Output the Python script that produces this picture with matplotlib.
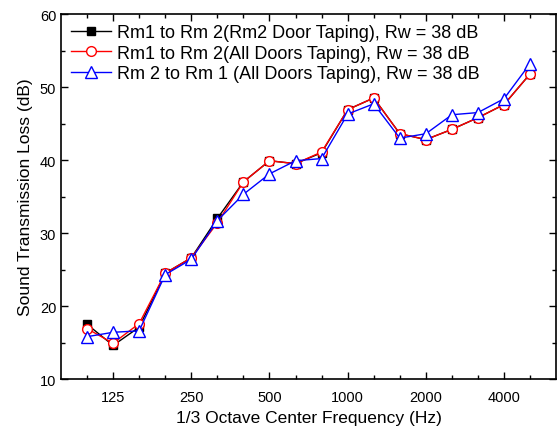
import matplotlib.pyplot as plt
import numpy as np

plt.rcParams['font.family'] = ['Liberation Sans', 'DejaVu Sans']

freqs = ['100', '125', '160', '200', '250', '315', '400', '500', '630', '800',
         '1000', '1250', '1600', '2000', '2500', '3150', '4000', '5000']
rm2_door = [17.5, 14.6, 17.1, 24.5, 26.6, 32.0, 37.0, 39.9, 39.5, 41.0,
            46.9, 48.5, 43.6, 42.8, 44.2, 45.8, 47.6, 51.8]
all_doors = [16.9, 14.9, 17.6, 24.5, 26.6, 31.4, 37.0, 39.9, 39.5, 41.1,
             46.9, 48.5, 43.6, 42.8, 44.2, 45.8, 47.6, 51.8]
rm2_to_rm1 = [15.8, 16.4, 16.6, 24.3, 26.4, 31.7, 35.3, 38.1, 39.9, 40.2,
              46.3, 47.7, 43.0, 43.6, 46.2, 46.5, 48.4, 53.2]
tick_labels = ['125', '250', '500', '1000', '2000', '4000']

x = np.arange(len(freqs))

fig = plt.figure(figsize=(5.57, 4.35), dpi=100)
ax = fig.add_axes([0.1095, 0.1264, 0.889, 0.8391])

ax.plot(x, rm2_door, color='black', lw=1, marker='s', ms=6, mfc='black', mec='black',
        label='Rm1 to Rm 2(Rm2 Door Taping), Rw = 38 dB')
ax.plot(x, all_doors, color='red', lw=1, marker='o', ms=7, mfc='white', mec='red',
        label='Rm1 to Rm 2(All Doors Taping), Rw = 38 dB')
ax.plot(x, rm2_to_rm1, color='blue', lw=1, marker='^', ms=8, mfc='white', mec='blue',
        label='Rm 2 to Rm 1 (All Doors Taping), Rw = 38 dB')

ax.set_xlim(-1, 18)
ax.set_ylim(10, 60)
major = [freqs.index(t) for t in tick_labels]
ax.set_xticks(major)
ax.set_xticklabels(tick_labels)
ax.set_xticks([i for i in x if i not in major], minor=True)
ax.set_yticks(np.arange(10, 61, 10))
ax.set_yticks(np.arange(15, 60, 10), minor=True)
ax.tick_params(which='both', direction='in', top=True, right=True, labelsize=10.5, width=1)
ax.tick_params(which='major', length=5)
ax.tick_params(axis='x', which='major', pad=8)
ax.tick_params(which='minor', length=3)
for s in ax.spines.values():
    s.set_linewidth(1.2)

ax.set_xlabel('1/3 Octave Center Frequency (Hz)', fontsize=12.5, labelpad=4)
ax.set_ylabel('Sound Transmission Loss (dB)', fontsize=12.5, labelpad=5)

ax.legend(loc='upper left', frameon=False, fontsize=13, handlelength=2.2,
          handletextpad=0.35, labelspacing=0.2, borderaxespad=0.15)

fig.savefig('out.png', dpi=100)
